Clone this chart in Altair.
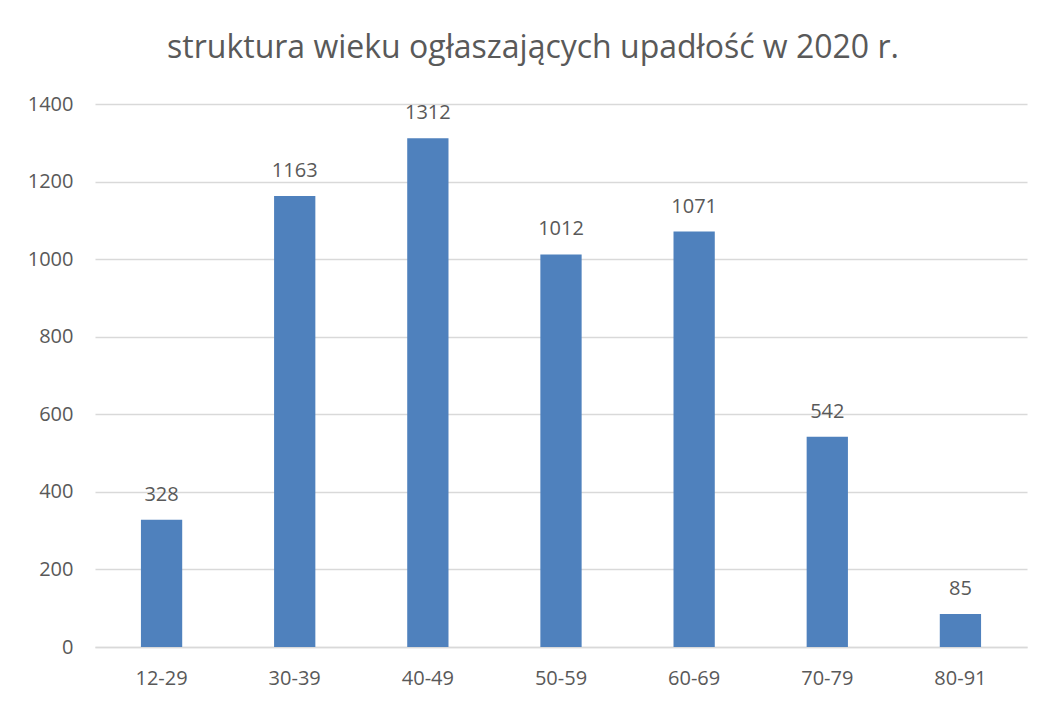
import altair as alt
import pandas as pd

categories = ["12-29", "30-39", "40-49", "50-59", "60-69", "70-79", "80-91"]
values = [328, 1163, 1312, 1012, 1071, 542, 85]
title_text = "struktura wieku ogłaszających upadłość w 2020 r."

df = pd.DataFrame({"wiek": categories, "liczba": values})

FONT = "Open Sans"
GREY = "#595959"

base = alt.Chart(df)

x = alt.X(
    "wiek:N",
    sort=categories,
    scale=alt.Scale(paddingInner=0.69, paddingOuter=0.345),
    axis=alt.Axis(
        title=None, labelAngle=0, ticks=False, domain=True, domainColor="#D9D9D9",
        domainWidth=1.3, labelFont=FONT, labelFontSize=20, labelColor=GREY,
        labelPadding=21, grid=False,
    ),
)
y = alt.Y(
    "liczba:Q",
    scale=alt.Scale(domain=[0, 1400], nice=False),
    axis=alt.Axis(
        title=None, values=[0, 200, 400, 600, 800, 1000, 1200, 1400], format="d",
        ticks=False, domain=False, grid=True, gridColor="#D9D9D9", gridWidth=1.3,
        labelFont=FONT, labelFontSize=20, labelColor=GREY, labelPadding=22,
    ),
)

bars = base.mark_bar(color="#4F81BD").encode(x=x, y=y)
labels = base.mark_text(
    font=FONT, fontSize=20, color=GREY, baseline="alphabetic", dy=-19
).encode(x=x, y=y, text="liczba:Q")

chart = (
    alt.layer(bars, labels)
    .properties(
        width=932,
        height=543,
        padding={"left": 87, "top": 96, "right": 8, "bottom": 50},
        autosize=alt.AutoSizeParams(type="none"),
        title=alt.Title(
            title_text, font=FONT, fontSize=32, fontWeight="normal", color=GREY,
            anchor="middle", dx=-28, offset=4, baseline="alphabetic",
        ),
    )
    .configure(background="white")
    .configure_view(stroke=None, strokeWidth=0)
    .configure_axisX(grid=False)
)

chart.save("out.html", embed_options={"renderer": "svg", "actions": False})
